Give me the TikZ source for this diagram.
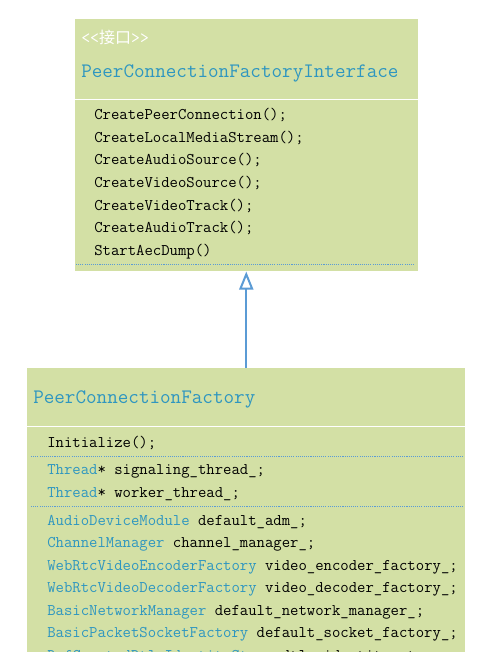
\documentclass[tikz,border=0pt]{standalone}
\usepackage{fontspec}
\newfontfamily\cjk{Noto Sans CJK SC}
\usetikzlibrary{arrows.meta}
\definecolor{boxfill}{RGB}{211,224,165}
\definecolor{typeblue}{RGB}{46,150,192}
\definecolor{linkblue}{RGB}{91,155,213}
\tikzset{
  umlbox/.style={fill=boxfill, draw=none, inner sep=0pt, anchor=north west},
  member/.style={anchor=west, inner sep=0pt, yshift=-1.5pt, font=\ttfamily\fontsize{12.2pt}{14pt}\selectfont, text height=0.7em, text depth=0.25em, text=black},
  classname/.style={anchor=west, inner sep=0pt, yshift=-2pt, font=\ttfamily\fontsize{15.4pt}{17pt}\selectfont, text=typeblue},
  stereo/.style={anchor=west, inner sep=0pt, font=\ttfamily\fontsize{13pt}{15pt}\selectfont, text=white},
  whitesep/.style={draw=white, line width=1pt},
  dotsep/.style={draw=linkblue, line width=0.8pt, dash pattern=on 0.8pt off 0.8pt},
  inherit/.style={draw=linkblue, line width=1.5pt, -{Triangle[open, length=13.5pt, width=10.5pt, line width=1.5pt]}}
}
\newcommand{\ty}[1]{\textcolor{typeblue}{#1}}
\begin{document}
\begin{tikzpicture}[x=0.75pt, y=-0.75pt]
\clip (0,0) rectangle (492,652);
\fill[white] (0,0) rectangle (492,652);
% interface box
\node[umlbox, minimum width=257.25pt, minimum height=189pt] (iface) at (75,19) {};
\node[stereo] (st) at (81,37) {<<{\cjk\fontsize{12pt}{14pt}\selectfont 接口}>>};
\node[classname] (ifname) at (81,71) {PeerConnectionFactoryInterface};
\draw[whitesep] (75,99.5) -- (418,99.5);
\node[member] (m1) at (94,115) {CreatePeerConnection();};
\node[member] (m2) at (94,137.5) {CreateLocalMediaStream();};
\node[member] (m3) at (94,160) {CreateAudioSource();};
\node[member] (m4) at (94,182.5) {CreateVideoSource();};
\node[member] (m5) at (94,205) {CreateVideoTrack();};
\node[member] (m6) at (94,227.5) {CreateAudioTrack();};
\node[member] (m7) at (94,250) {StartAecDump()};
\draw[dotsep] (76,264.5) -- (414,264.5);
% implementation box
\node[umlbox, minimum width=328.5pt, minimum height=225pt] (impl) at (27,368) {};
\node[classname] (implname) at (33,397) {PeerConnectionFactory};
\draw[whitesep] (27,426.5) -- (465,426.5);
\node[member] (i1) at (47,442) {Initialize();};
\draw[dotsep] (31,456.5) -- (462,456.5);
\node[member] (f1) at (47,469.5) {\ty{Thread}* signaling\_thread\_;};
\node[member] (f2) at (47,492) {\ty{Thread}* worker\_thread\_;};
\draw[dotsep] (31,506.5) -- (462,506.5);
\node[member] (g1) at (47,520) {\ty{AudioDeviceModule} default\_adm\_;};
\node[member] (g2) at (47,542.5) {\ty{ChannelManager} channel\_manager\_;};
\node[member] (g3) at (47,565) {\ty{WebRtcVideoEncoderFactory} video\_encoder\_factory\_;};
\node[member] (g4) at (47,587.5) {\ty{WebRtcVideoDecoderFactory} video\_decoder\_factory\_;};
\node[member] (g5) at (47,610) {\ty{BasicNetworkManager} default\_network\_manager\_;};
\node[member] (g6) at (47,632.5) {\ty{BasicPacketSocketFactory} default\_socket\_factory\_;};
\node[member] (g7) at (47,655) {\ty{RefCountedDtlsIdentityStore} dtls\_identity\_store\_;};
% inheritance
\draw[inherit] (impl.north) -- (impl.north |- iface.south);
\end{tikzpicture}
\end{document}
